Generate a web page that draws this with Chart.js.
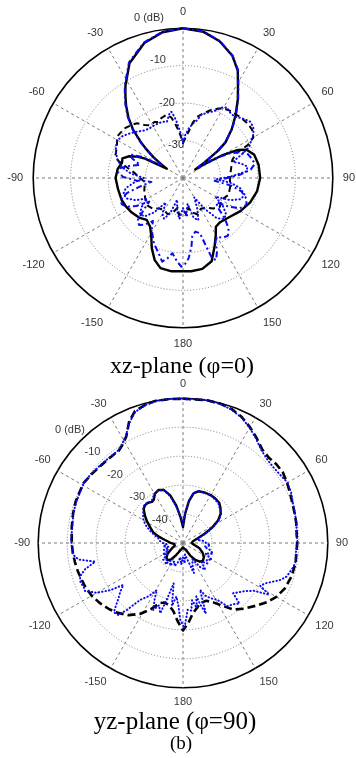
<!DOCTYPE html>
<html>
<head>
<meta charset="utf-8">
<script src="https://cdn.jsdelivr.net/npm/chart.js@4/dist/chart.umd.min.js"></script>
<style>
  html, body { margin:0; padding:0; background:#fff; }
  body { width:356px; height:758px; position:relative; overflow:hidden; }
  canvas { position:absolute; }
  .cap { position:absolute; width:366px; text-align:center; font-family:"Liberation Serif","Times New Roman",serif; color:#000; line-height:1; white-space:nowrap; z-index:2; }
</style>
</head>
<body>
<canvas id="top" width="356" height="346"></canvas>
<canvas id="bot" width="356" height="332"></canvas>
<div class="cap" id="cap1" style="left:-1px;top:353px;font-size:24px;">xz-plane (φ=0)</div>
<div class="cap" id="cap2" style="left:-8px;top:708px;font-size:25px;">yz-plane (φ=90)</div>
<div class="cap" id="cap3" style="left:-2px;top:733px;font-size:19px;">(b)</div>
<script>
// ---------- angle tick labels (every 30 degrees, clockwise from top) ----------
const angleTickLabels = ['0','30','60','90','120','150','180','-150','-120','-90','-60','-30'];
// ---------- radial tick labels ----------
const topTickValues = [0, -10, -20, -30];
const topTickLabels = ['0 (dB)', '-10', '-20', '-30'];
const botTickValues = [0, -10, -20, -30, -40];
const botTickLabels = ['0 (dB)', '-10', '-20', '-30', '-40'];

// ================= xz-plane (phi = 0), range -40..0 dB =================
// co-pol simulated (black solid)
const xzCoSimAng = [0,8,15,22,27,31,35,40,45,50,52,54,55,57,60,63,66,72,80,90,100,110,120,130,140,146,150,155,161,168,175,180,187,194,199,204,209,214,221,228,236,243,250,260,270,278,284,288,292,295,297,300,302,305,308,310,314,318,322,325,328,335,344,352];
const xzCoSimDb  = [0,-0.6,-2.2,-4.8,-7.8,-11.5,-14.5,-18.2,-21.6,-25.2,-28,-33,-36,-33.5,-27.6,-23.5,-21.4,-20,-19.5,-19.4,-19.9,-20.9,-22.3,-23.8,-24.6,-24.3,-22.5,-20,-16.5,-15.2,-15,-15.1,-14.9,-15.2,-16.8,-19.5,-22.5,-24.3,-25.2,-24.2,-23.5,-23,-22.6,-22.4,-22,-22.4,-23.2,-23,-24.5,-26.5,-28.6,-35,-33.3,-30.5,-27.7,-25.6,-21.5,-18.2,-15.3,-13.2,-11,-6.2,-2.5,-0.7];
// co-pol measured (blue dash-dot)
const xzCoMeasAng = [0,8,15,22,27,31,35,40,45,50,53,55,58,62,66,70,75,79,83,87,91,95,99,103,108,113,118,122,126,130,134,138,142,146,150,153,155,158,160,161,163,167,171,173,176,179,181,184,188,191,194,198,204,211,215,219,223,227,231,235,239,243,247,251,255,259,263,267,271,275,279,283,287,291,294,297,300,302,305,308,310,314,318,322,325,328,335,344,352];
const xzCoMeasDb  = [0,-0.5,-2.1,-4.7,-7.6,-11.3,-14.3,-18,-21.4,-25.5,-30,-35,-31,-26,-23,-21.5,-20.8,-20.5,-21.8,-25,-29,-31.5,-27,-24,-22.2,-21.6,-22.8,-25.5,-29,-28,-24.5,-21.8,-20.5,-20.8,-21.8,-21,-18.5,-16.4,-17,-20,-24.6,-25.3,-24.2,-21.5,-18.5,-16.8,-16.3,-17.6,-19.7,-18.1,-17,-18.9,-20.9,-23.8,-26,-24,-22.8,-23.5,-26.5,-29,-25.5,-23,-22.2,-22.5,-24.5,-28.5,-31.5,-27.5,-24,-22.6,-23,-25.5,-28,-25.5,-24.5,-27.5,-33.5,-33,-30.2,-27.4,-25.3,-21.2,-17.9,-15,-12.9,-10.7,-5.9,-2.3,-0.6];
// cross-pol simulated (black dashed)
const xzXSimAng = [0,4,7,10,13,17,22,27,30,36,43,50,55,60,63,65,70,80,90,100,110,120,128,135,142,150,158,165,170,174,178,182,186,190,196,203,210,218,225,232,241,250,258,264,270,276,282,285,288,296,302,306,311,316,320,324,328,333,336,340,345,349,352,355,358];
const xzXSimDb  = [-30.7,-29,-27.5,-25,-23.3,-22,-20.5,-19.2,-18.5,-18,-17.7,-17.4,-17.5,-18.3,-20.5,-24.3,-26,-27,-27.5,-27.2,-27,-28.2,-27.5,-28.5,-30,-30.5,-29.5,-30.5,-32,-30,-31,-31,-30,-32,-30.5,-29.5,-30,-29.7,-28.5,-28,-28.5,-29,-29.5,-29.8,-28.5,-27,-24,-22,-21,-20.4,-19.2,-19.4,-19.6,-20.3,-20.9,-22.5,-23.4,-23.2,-23.6,-23,-22.6,-23.5,-25.5,-27.5,-29.5];
// cross-pol measured (blue dotted)
const xzXMeasAng = [0,3,7,11,14,16,20,25,29,32,36,40,45,50,54,58,62,65,68,72,76,80,84,88,92,96,100,105,110,115,120,125,130,135,140,145,150,155,160,165,170,175,180,185,190,195,200,205,210,215,220,225,230,235,240,245,250,255,260,265,270,275,280,285,290,295,300,305,310,315,320,325,330,335,340,344,348,350,352,354,357];
const xzXMeasDb  = [-30.5,-28.5,-26.5,-25,-24,-22.5,-21.5,-20.3,-18.5,-17.8,-18.5,-18.6,-17.5,-16.6,-16.8,-17.8,-19.5,-20.5,-23,-26,-24,-22.5,-23,-27,-31,-27,-24.5,-23,-23.5,-26,-30,-27,-25,-24.5,-26,-30,-34,-31,-28,-29,-33,-30,-32,-29,-31,-34,-30,-28,-29,-32,-28,-25.5,-25,-26.5,-29,-26,-24,-23.5,-24.5,-27,-29.5,-26,-23.5,-22,-21,-20.2,-19.8,-20.4,-21.5,-22.5,-23.5,-24,-24,-24,-24,-24.4,-22.5,-22,-23.5,-25.3,-28];

// ================= yz-plane (phi = 90), range -50..0 dB =================
// co-pol simulated (black dashed)
const yzCoSimAng = [0,10,15,20,25,30,35,40,45,50,55,60,65,70,75,80,90,100,107,114,120,125,130,137,143,148,153,158,164,168,172,176,180,184,188,192,197,201,206,211,217,223,228,234,240,246,250,255,260,265,270,278,285,291,296,301,307,313,318,322,325,328,332,336,340,345,349,355];
const yzCoSimDb  = [-0.2,0,-0.2,-0.8,-2,-3.8,-5.7,-7.6,-8.2,-7.8,-7.8,-8.5,-9.2,-9.8,-10.1,-10.3,-10.6,-10.5,-10.8,-11.5,-12.8,-14.5,-16.5,-19,-21.2,-24.5,-27,-28.5,-28.4,-27,-25.5,-22.5,-19.8,-23,-26.2,-27.8,-28.5,-27.8,-24.5,-21.5,-18.8,-17,-15.8,-14.6,-13.6,-13,-12.8,-12.4,-12.1,-11.8,-11.6,-11.2,-10.7,-10.3,-10.2,-9.9,-10.5,-11,-11.2,-11.2,-11.2,-10.3,-8.3,-4.2,-1.5,-0.5,0,-0.1];
// co-pol measured (blue dotted)
const yzCoMeasAng = [0,8,15,20,25,30,35,40,45,50,55,60,65,70,75,80,85,90,95,100,103,108,111,116,119,121,124,128,132,135,137,140,145,149,153,157,160,162,164,166,168,171,173,176,179,182,184,187,190,193,196,198,201,204,207,209,213,217,220,222,225,229,232,235,237,240,244,246,249,252,255,258,261,264,268,272,278,285,291,296,301,307,313,318,322,325,328,332,336,340,345,350,355];
const yzCoMeasDb  = [-0.3,0,-0.3,-1,-2.2,-4,-6,-8,-9,-9.3,-9,-8.3,-8.8,-9.6,-10,-10.2,-10.7,-10.4,-10.9,-10.6,-11.2,-12.4,-14.2,-18.3,-19.5,-15.3,-20.5,-23,-24.5,-25.5,-21.4,-22.5,-23.4,-27.2,-28.5,-30.2,-32.8,-24.4,-27.5,-31,-27,-30,-26.5,-26.9,-20.6,-23.4,-28,-31.4,-28,-35.7,-29.6,-24.5,-27,-24.7,-28.5,-31.4,-28,-25.4,-19.8,-16.6,-16.2,-20.3,-22.5,-24.8,-20.1,-15.6,-12.3,-12.5,-12.1,-12.6,-15,-19,-13.5,-11.8,-11.6,-11.3,-11.4,-10.8,-10.5,-10.4,-10,-10.3,-10.8,-11,-11.1,-11,-10,-8,-4.5,-1.8,-0.6,-0.1,0];
// cross-pol simulated (black solid)
const yzXSimAng = [0,4,8,12,17,24,30,36,42,47,52,57,62,67,72,80,90,100,108,116,124,132,138,144,150,158,168,180,192,202,210,216,222,228,235,243,252,262,272,280,285,290,296,301,306,311,315,319,323,326,330,335,340,345,350,355];
const yzXSimDb  = [-44.5,-40,-35.5,-32.5,-31.3,-31,-30.9,-31,-31.3,-32.3,-33.5,-35.5,-38.5,-42,-44.5,-46.5,-47,-46,-44,-42.5,-41.3,-40.8,-41.3,-42.8,-45,-47.5,-48,-48.5,-48,-47,-45,-43,-42,-42.3,-43.5,-45.5,-47,-47,-45.5,-43.5,-41.2,-39,-37.3,-35.5,-33.7,-32,-31.5,-31.6,-32.2,-32,-30.5,-29.8,-30.5,-33,-37,-41.5];
// cross-pol measured (blue dotted)
const yzXMeasAng = [0,4,8,12,17,24,30,36,42,47,52,57,62,67,72,78,84,90,95,100,105,110,115,120,125,130,135,140,145,150,156,160,165,170,175,180,185,190,195,200,205,210,215,220,225,230,235,240,245,250,255,260,265,270,275,280,285,290,296,301,306,311,315,319,323,326,330,335,340,345,350,355];
const yzXMeasDb  = [-43.5,-39.5,-35,-32.3,-31.2,-31.2,-31,-31.3,-31.7,-32.6,-33.2,-35,-38,-41.5,-44,-45,-43,-42,-40.5,-42.5,-40,-39,-41.5,-38.5,-40,-39,-41,-38,-40,-43.5,-42,-39,-44,-46,-43,-45,-42.5,-45,-43,-41.5,-43,-41,-42.5,-40.5,-42,-41,-43.5,-42,-44.5,-43,-45,-43,-44.5,-43,-42,-41.5,-40,-38,-35.5,-34,-33,-31.8,-31.2,-31.5,-32,-31.3,-30.3,-30,-30.5,-33.5,-37.5,-41];

// ---------- helpers ----------
const N = 360;
const angleLabels = Array.from({length: N}, (_, i) => (i % 30 === 0 ? angleTickLabels[i / 30] : ''));
function series(angles, values) {
  const out = new Array(N).fill(null);
  angles.forEach((a, i) => { out[((Math.round(a) % N) + N) % N] = values[i]; });
  return out;
}
const BLUE = '#0a0af0';
const GRID = '#7a7a7a';
const FONT = "'Liberation Sans', Arial, sans-serif";

function tickPlugin(values, labels, angleDeg, k, c, color) {
  return {
    id: 'polarTickLabels',
    beforeDatasetsDraw(chart) {
      const s = chart.scales.r;
      const ctx = chart.ctx;
      const a = angleDeg * Math.PI / 180;
      ctx.save();
      ctx.font = '11px ' + FONT;
      ctx.fillStyle = color;
      ctx.textAlign = 'center';
      ctx.textBaseline = 'middle';
      values.forEach((v, i) => {
        const d = s.getDistanceFromCenterForValue(v) * k + c;
        ctx.fillText(labels[i], s.xCenter + d * Math.sin(a), s.yCenter - d * Math.cos(a));
      });
      ctx.restore();
    }
  };
}

function makeChart(id, datasets, min, pad, labelColor, plugin, cx, cy) {
  const chart = new Chart(document.getElementById(id), {
    type: 'radar',
    data: { labels: angleLabels, datasets },
    options: {
      responsive: false,
      animation: false,
      events: [],
      plugins: { legend: { display: false }, tooltip: { enabled: false } },
      elements: { point: { radius: 0, hitRadius: 0 }, line: { tension: 0 } },
      scales: {
        r: {
          min: min, max: 0,
          ticks: { display: false, stepSize: 10 },
          grid: {
            circular: true,
            color: ctx => (ctx.tick && ctx.tick.value === 0 ? '#000' : GRID),
            lineWidth: ctx => (ctx.tick && ctx.tick.value === 0 ? 1.6 : 1)
          },
          border: { dash: ctx => (ctx.tick && ctx.tick.value === 0 ? [] : [1, 2]) },
          angleLines: {
            display: true,
            color: ctx => (ctx.index % 30 === 0 ? GRID : 'rgba(0,0,0,0)'),
            lineWidth: ctx => (ctx.index % 30 === 0 ? 1 : 0),
            borderDash: [3, 3]
          },
          pointLabels: {
            display: true,
            padding: pad,
            color: labelColor,
            font: { family: FONT, size: 11, lineHeight: 1.2 }
          }
        }
      }
    },
    plugins: [plugin]
  });
  const s = chart.scales.r;
  chart.canvas.style.left = (cx - s.xCenter) + 'px';
  chart.canvas.style.top = (cy - s.yCenter) + 'px';
  return chart;
}

const lineBase = { fill: false, spanGaps: true, pointRadius: 0, tension: 0, borderJoinStyle: 'round' };

makeChart('top', [
  Object.assign({}, lineBase, { label: 'co-pol meas', data: series(xzCoMeasAng, xzCoMeasDb), borderColor: BLUE, borderWidth: 2, borderDash: [6, 3, 2, 3] }),
  Object.assign({}, lineBase, { label: 'cross-pol meas', data: series(xzXMeasAng, xzXMeasDb), borderColor: BLUE, borderWidth: 2, borderDash: [0.5, 3.2], borderCapStyle: 'round' }),
  Object.assign({}, lineBase, { label: 'co-pol sim', data: series(xzCoSimAng, xzCoSimDb), borderColor: '#000', borderWidth: 2.4 }),
  Object.assign({}, lineBase, { label: 'cross-pol sim', data: series(xzXSimAng, xzXSimDb), borderColor: '#000', borderWidth: 2, borderDash: [6, 4] })
], -40, 10, '#333', tickPlugin(topTickValues, topTickLabels, -12, 1.16, -10, '#333'), 183, 178);

makeChart('bot', [
  Object.assign({}, lineBase, { label: 'co-pol meas', data: series(yzCoMeasAng, yzCoMeasDb), borderColor: BLUE, borderWidth: 2, borderDash: [0.5, 3], borderCapStyle: 'round' }),
  Object.assign({}, lineBase, { label: 'cross-pol meas', data: series(yzXMeasAng, yzXMeasDb), borderColor: BLUE, borderWidth: 2, borderDash: [0.5, 3], borderCapStyle: 'round' }),
  Object.assign({}, lineBase, { label: 'cross-pol sim', data: series(yzXSimAng, yzXSimDb), borderColor: '#000', borderWidth: 2.4 }),
  Object.assign({}, lineBase, { label: 'co-pol sim', data: series(yzCoSimAng, yzCoSimDb), borderColor: '#000', borderWidth: 2.6, borderDash: [8, 4] })
], -50, 8, '#3a3a3a', tickPlugin(botTickValues, botTickLabels, -45, 1.095, 1.25, '#3a3a3a'), 183, 543);
</script>
</body>
</html>
